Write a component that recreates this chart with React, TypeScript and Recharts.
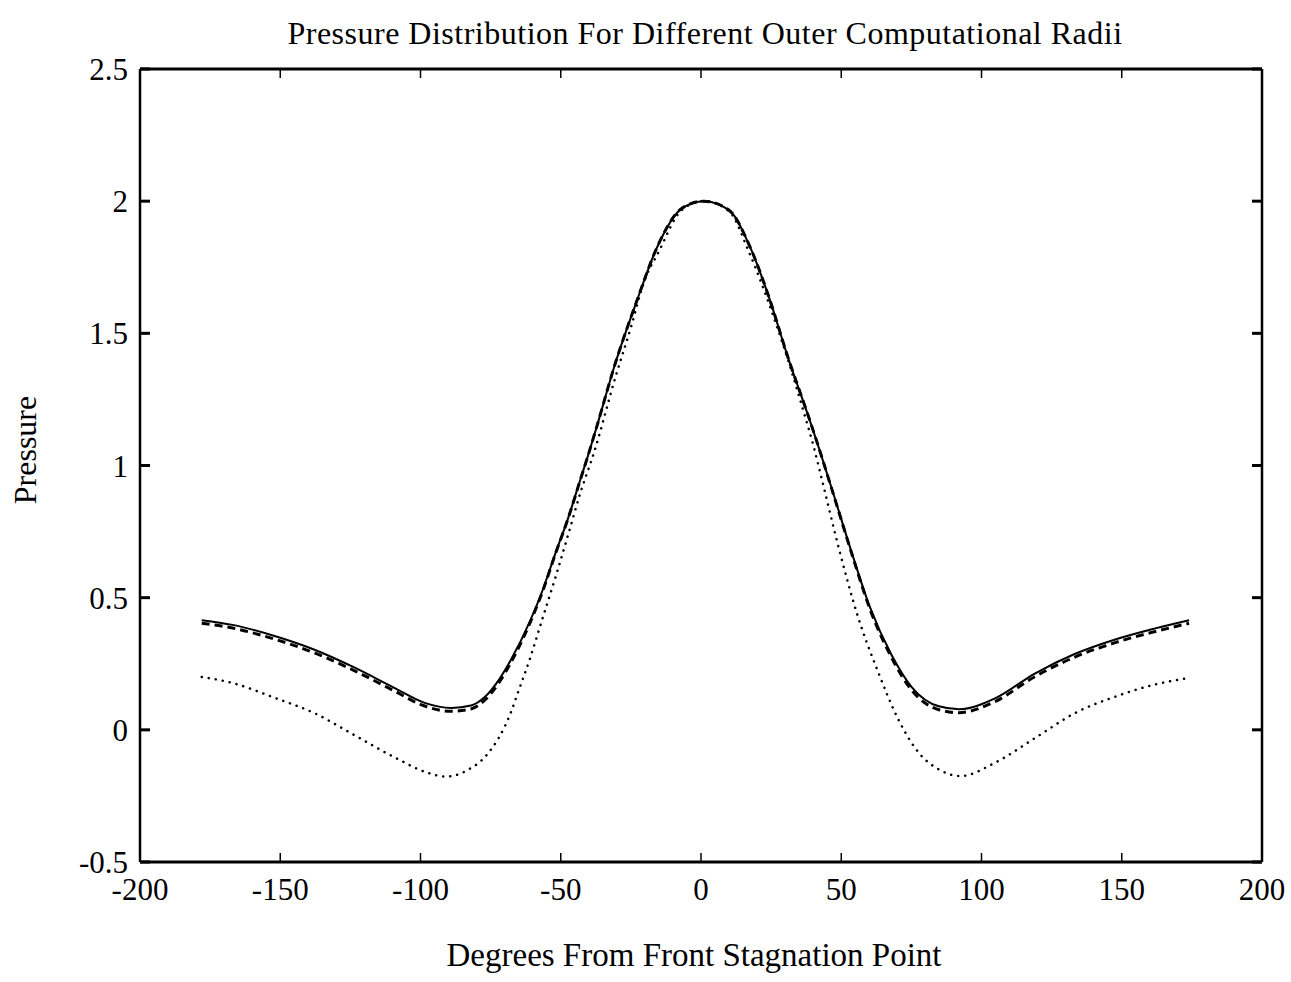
import React from "react";
import { LineChart, Line, XAxis, YAxis, Customized } from "recharts";

// degrees from the front stagnation point, and pressure
const solidAngle = [-178, -167, -152.6, -138, -124, -109.5, -98.5, -89, -82, -77, -72, -68, -61, -56.4, -52, -47.4, -42.9, -40.5, -37.3, -30.6, -22.7, -15.9, -6.7, 1, 10, 17.4, 23.7, 31.2, 38.2, 41, 47.7, 54, 60.3, 67.8, 75.1, 84.8, 92, 105, 119, 133, 147.4, 161.6, 174];
const solidPressure = [0.415, 0.397, 0.357, 0.304, 0.238, 0.16, 0.102, 0.083, 0.092, 0.125, 0.19, 0.26, 0.41, 0.53, 0.665, 0.8, 0.951, 1.03, 1.142, 1.385, 1.628, 1.82, 1.974, 2.0, 1.966, 1.829, 1.653, 1.403, 1.189, 1.1, 0.876, 0.662, 0.462, 0.286, 0.162, 0.089, 0.078, 0.12, 0.213, 0.286, 0.341, 0.383, 0.415];
const dashedPressure = [0.403, 0.385, 0.345, 0.292, 0.226, 0.148, 0.09, 0.07, 0.079, 0.113, 0.179, 0.25, 0.404, 0.526, 0.663, 0.799, 0.95, 1.03, 1.142, 1.385, 1.628, 1.82, 1.974, 2.0, 1.966, 1.829, 1.653, 1.403, 1.189, 1.1, 0.874, 0.658, 0.455, 0.276, 0.15, 0.076, 0.065, 0.108, 0.201, 0.274, 0.329, 0.371, 0.403];

const dottedAngle = [-178, -166.6, -152.2, -137.8, -123.4, -108.9, -98.1, -90.9, -82.7, -76.8, -67.6, -65.3, -60.8, -56.3, -51.8, -47.3, -42.9, -38, -30.5, -24.9, -20.4, -15, -7, 1, 10, 17, 26.2, 31.3, 36.4, 40.2, 42.8, 49.3, 55.6, 63.1, 70.6, 77.9, 85.2, 92.4, 105.4, 119.5, 133.6, 147.8, 162, 174];
const dottedPressure = [0.2, 0.176, 0.122, 0.063, -0.021, -0.106, -0.16, -0.177, -0.149, -0.1, 0.071, 0.14, 0.275, 0.428, 0.58, 0.74, 0.9, 1.054, 1.334, 1.526, 1.692, 1.81, 1.965, 2.0, 1.962, 1.81, 1.553, 1.39, 1.21, 1.07, 0.96, 0.68, 0.44, 0.22, 0.034, -0.09, -0.152, -0.175, -0.121, -0.028, 0.065, 0.126, 0.172, 0.196];

const xTicks = [-200, -150, -100, -50, 0, 50, 100, 150, 200];
const yTicks = [-0.5, 0, 0.5, 1, 1.5, 2, 2.5];

const solidData = solidAngle.map((a, i) => ({ a, p: solidPressure[i] }));
const dashedData = solidAngle.map((a, i) => ({ a, p: dashedPressure[i] }));
const dottedData = dottedAngle.map((a, i) => ({ a, p: dottedPressure[i] }));

const font = "'Liberation Serif', 'DejaVu Serif', serif";
const tickStyle = { fill: "#000", fontSize: 31, fontFamily: font };
const blank = () => "";

// ticks point into the plot, as in the original
const inUp = { stroke: "#000", strokeWidth: 1.5, transform: "translate(0,-9)" };
const inDown = { stroke: "#000", strokeWidth: 1.5, transform: "translate(0,9)" };
const inRight = { stroke: "#000", strokeWidth: 3, transform: "translate(10,0)" };
const inLeft = { stroke: "#000", strokeWidth: 3, transform: "translate(-10,0)" };

const Texts = () => (
  <g fontFamily={font} fill="#000">
    <text x={705} y={44} fontSize={32} textAnchor="middle" letterSpacing={0.5}>
      Pressure Distribution For Different Outer Computational Radii
    </text>
    <text x={694} y={966} fontSize={33} textAnchor="middle">
      Degrees From Front Stagnation Point
    </text>
    <text x={36} y={450} fontSize={32} textAnchor="middle" transform="rotate(-90 36 450)">
      Pressure
    </text>
  </g>
);

export default function App() {
  return (
    <div style={{ position: "absolute", left: 0, top: 0, width: 1291, height: 982, background: "#fff" }}>
      <LineChart width={1291} height={982} margin={{ top: 68, right: 28, left: 40, bottom: 60 }}>
        <XAxis xAxisId="b" dataKey="a" type="number" domain={[-200, 200]} ticks={xTicks} allowDataOverflow
          orientation="bottom" height={60} tickSize={9} tickMargin={7} tick={tickStyle}
          axisLine={{ stroke: "#000", strokeWidth: 3 }} tickLine={inUp} />
        <XAxis xAxisId="t" dataKey="a" type="number" domain={[-200, 200]} ticks={xTicks} allowDataOverflow
          orientation="top" height={1} tickSize={9} tickFormatter={blank} tick={tickStyle}
          axisLine={{ stroke: "#000", strokeWidth: 3 }} tickLine={inDown} />
        <YAxis yAxisId="l" type="number" domain={[-0.5, 2.5]} ticks={yTicks} allowDataOverflow
          orientation="left" width={100} tickSize={10} tickMargin={2} tick={tickStyle}
          axisLine={{ stroke: "#000", strokeWidth: 2.5 }} tickLine={inRight} />
        <YAxis yAxisId="r" type="number" domain={[-0.5, 2.5]} ticks={yTicks} allowDataOverflow
          orientation="right" width={1} tickSize={10} tickFormatter={blank} tick={tickStyle}
          axisLine={{ stroke: "#000", strokeWidth: 2.5 }} tickLine={inLeft} />
        <Line xAxisId="b" yAxisId="l" data={dottedData} dataKey="p" type="monotone" stroke="#000"
          strokeWidth={2.5} strokeDasharray="0.1 7" strokeLinecap="round" dot={false} isAnimationActive={false} />
        <Line xAxisId="b" yAxisId="l" data={dashedData} dataKey="p" type="monotone" stroke="#000"
          strokeWidth={3} strokeDasharray="8 5" dot={false} isAnimationActive={false} />
        <Line xAxisId="b" yAxisId="l" data={solidData} dataKey="p" type="monotone" stroke="#000"
          strokeWidth={2} dot={false} isAnimationActive={false} />
        <Customized component={Texts} />
      </LineChart>
    </div>
  );
}
